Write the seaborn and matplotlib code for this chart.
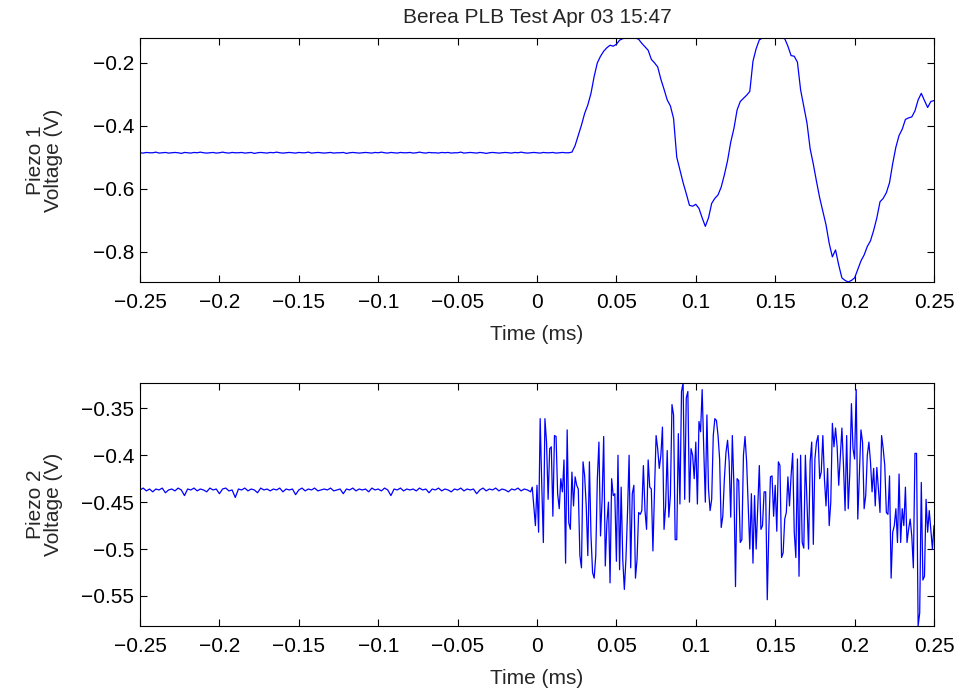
import numpy as np
import pandas as pd
import seaborn as sns
import matplotlib.pyplot as plt

# ---- data ----
title = 'Berea PLB Test Apr 03 15:47'
x_ticks = [-0.25, -0.2, -0.15, -0.1, -0.05, 0, 0.05, 0.1, 0.15, 0.2, 0.25]
x_tick_labels = ['\u22120.25', '\u22120.2', '\u22120.15', '\u22120.1', '\u22120.05', '0',
                 '0.05', '0.1', '0.15', '0.2', '0.25']
top_y_ticks = [-0.8, -0.6, -0.4, -0.2]
top_y_labels = ['\u22120.8', '\u22120.6', '\u22120.4', '\u22120.2']
bot_y_ticks = [-0.55, -0.5, -0.45, -0.4, -0.35]
bot_y_labels = ['\u22120.55', '\u22120.5', '\u22120.45', '\u22120.4', '\u22120.35']

# piezo 1: baseline before trigger (every 0.002 ms from -0.25 to 0.020)
piezo1_pre = [
    -0.486, -0.487, -0.485, -0.486, -0.486, -0.484, -0.487, -0.486, -0.485, -0.487,
    -0.486, -0.485, -0.486, -0.488, -0.485, -0.486, -0.487, -0.485, -0.486, -0.484,
    -0.486, -0.487, -0.486, -0.485, -0.487, -0.486, -0.484, -0.486, -0.487, -0.485,
    -0.486, -0.486, -0.485, -0.487, -0.486, -0.485, -0.488, -0.486, -0.485, -0.486,
    -0.487, -0.485, -0.486, -0.484, -0.486, -0.487, -0.486, -0.485, -0.486, -0.487,
    -0.485, -0.486, -0.486, -0.484, -0.487, -0.486, -0.485, -0.486, -0.487, -0.486,
    -0.485, -0.487, -0.486, -0.486, -0.485, -0.488, -0.486, -0.485, -0.486, -0.487,
    -0.486, -0.485, -0.486, -0.487, -0.485, -0.486, -0.484, -0.486, -0.487, -0.485,
    -0.486, -0.487, -0.485, -0.486, -0.486, -0.485, -0.487, -0.486, -0.484, -0.486,
    -0.487, -0.485, -0.486, -0.486, -0.487, -0.485, -0.486, -0.485, -0.487, -0.486,
    -0.486, -0.484, -0.487, -0.486, -0.485, -0.486, -0.487, -0.485, -0.486, -0.488,
    -0.486, -0.485, -0.486, -0.487, -0.486, -0.485, -0.486, -0.487, -0.485, -0.486,
    -0.484, -0.486, -0.487, -0.486, -0.485, -0.486, -0.487, -0.485, -0.486, -0.486,
    -0.485, -0.487, -0.486, -0.485, -0.486, -0.486]
# piezo 1: after trigger (every 0.002 ms from 0.022 to 0.25)
piezo1_post = [
    -0.484, -0.463, -0.431, -0.398, -0.361, -0.334, -0.297, -0.243, -0.200, -0.179,
    -0.163, -0.152, -0.144, -0.147, -0.141, -0.128, -0.123, -0.121, -0.121, -0.121,
    -0.121, -0.125, -0.138, -0.149, -0.160, -0.189, -0.200, -0.213, -0.252, -0.284,
    -0.318, -0.337, -0.377, -0.500, -0.541, -0.581, -0.616, -0.653, -0.656, -0.650,
    -0.663, -0.693, -0.720, -0.693, -0.647, -0.631, -0.620, -0.595, -0.556, -0.511,
    -0.452, -0.409, -0.350, -0.323, -0.313, -0.303, -0.291, -0.195, -0.155, -0.127,
    -0.121, -0.121, -0.121, -0.121, -0.121, -0.121, -0.121, -0.123, -0.147, -0.177,
    -0.179, -0.198, -0.286, -0.339, -0.391, -0.473, -0.522, -0.577, -0.629, -0.672,
    -0.715, -0.774, -0.817, -0.795, -0.843, -0.884, -0.892, -0.897, -0.892, -0.884,
    -0.857, -0.830, -0.811, -0.784, -0.766, -0.733, -0.693, -0.642, -0.631, -0.613,
    -0.581, -0.520, -0.468, -0.431, -0.411, -0.380, -0.375, -0.372, -0.353, -0.318,
    -0.297, -0.320, -0.342, -0.323, -0.320]

# piezo 2: baseline before trigger (every 0.002 ms from -0.25 to -0.006)
piezo2_pre = [
    -0.437, -0.435, -0.438, -0.436, -0.439, -0.436, -0.437, -0.435, -0.440, -0.437,
    -0.436, -0.438, -0.435, -0.437, -0.443, -0.436, -0.437, -0.435, -0.438, -0.436,
    -0.437, -0.439, -0.435, -0.437, -0.436, -0.441, -0.436, -0.435, -0.438, -0.437,
    -0.445, -0.436, -0.437, -0.435, -0.438, -0.436, -0.437, -0.440, -0.435, -0.437,
    -0.436, -0.438, -0.436, -0.437, -0.435, -0.439, -0.436, -0.437, -0.436, -0.442,
    -0.437, -0.435, -0.438, -0.436, -0.437, -0.435, -0.438, -0.437, -0.436, -0.437,
    -0.435, -0.438, -0.437, -0.436, -0.441, -0.436, -0.437, -0.435, -0.438, -0.436,
    -0.437, -0.436, -0.439, -0.435, -0.437, -0.436, -0.438, -0.435, -0.437, -0.443,
    -0.436, -0.437, -0.435, -0.438, -0.436, -0.437, -0.436, -0.438, -0.435, -0.437,
    -0.436, -0.440, -0.436, -0.437, -0.435, -0.438, -0.436, -0.437, -0.439, -0.436,
    -0.437, -0.435, -0.438, -0.436, -0.437, -0.436, -0.441, -0.437, -0.435, -0.438,
    -0.436, -0.437, -0.435, -0.438, -0.436, -0.437, -0.439, -0.436, -0.437, -0.435,
    -0.438, -0.436, -0.437]
# piezo 2: after trigger (every 0.001 ms from -0.004 to 0.25)
piezo2_post = [
    -0.439, -0.434, -0.454, -0.475, -0.432, -0.482, -0.361, -0.432, -0.493, -0.361,
    -0.386, -0.447, -0.393, -0.391, -0.465, -0.379, -0.380, -0.441, -0.457, -0.425,
    -0.439, -0.405, -0.515, -0.373, -0.472, -0.479, -0.418, -0.454, -0.423, -0.432,
    -0.436, -0.507, -0.520, -0.407, -0.422, -0.454, -0.507, -0.407, -0.486, -0.525,
    -0.531, -0.507, -0.425, -0.386, -0.486, -0.447, -0.380, -0.518, -0.472, -0.450,
    -0.536, -0.425, -0.443, -0.441, -0.513, -0.400, -0.522, -0.434, -0.511, -0.543,
    -0.511, -0.461, -0.400,
    -0.520, -0.441, -0.432, -0.531, -0.511, -0.461, -0.463, -0.459, -0.411, -0.459,
    -0.479, -0.405, -0.434, -0.436, -0.502, -0.438, -0.379, -0.393, -0.414, -0.400,
    -0.370, -0.479, -0.454, -0.395, -0.466, -0.443, -0.346, -0.357, -0.490, -0.490,
    -0.377, -0.452, -0.332, -0.323, -0.447, -0.339, -0.332, -0.450, -0.393, -0.400,
    -0.425, -0.386, -0.452, -0.364, -0.375, -0.330, -0.393, -0.450, -0.357, -0.436,
    -0.459, -0.447, -0.379, -0.361, -0.363, -0.379, -0.404, -0.477, -0.465, -0.425,
    -0.397, -0.384, -0.407, -0.466, -0.379, -0.432, -0.540, -0.425, -0.427, -0.493,
    -0.490, -0.400, -0.380, -0.407, -0.454, -0.500, -0.441, -0.515, -0.443, -0.500,
    -0.454, -0.411, -0.479, -0.475, -0.439, -0.439, -0.554, -0.479, -0.423, -0.422,
    -0.465, -0.432, -0.481, -0.407, -0.411, -0.509, -0.504, -0.468, -0.461, -0.423,
    -0.454, -0.422, -0.398, -0.482, -0.509, -0.404, -0.529, -0.400, -0.493, -0.499,
    -0.400, -0.450, -0.500, -0.407, -0.386, -0.495, -0.404, -0.386, -0.379,
    -0.425, -0.418, -0.379, -0.425, -0.454, -0.414, -0.475, -0.450, -0.366, -0.391,
    -0.371, -0.391, -0.432, -0.402, -0.371, -0.411, -0.459, -0.379, -0.457, -0.418,
    -0.345, -0.393, -0.404, -0.330, -0.468, -0.422, -0.373, -0.386, -0.457, -0.443,
    -0.400, -0.386, -0.407, -0.439, -0.414, -0.454, -0.413, -0.436, -0.461, -0.379,
    -0.393, -0.411, -0.461, -0.463, -0.422, -0.531, -0.482, -0.475, -0.457, -0.493,
    -0.420, -0.493, -0.457, -0.475, -0.434, -0.493, -0.479, -0.468, -0.486, -0.520,
    -0.398, -0.398, -0.582, -0.568, -0.429, -0.533, -0.529, -0.447, -0.482, -0.459,
    -0.479, -0.500, -0.475]

# sample times (ms)
t1 = np.concatenate([np.linspace(-0.25, 0.020, len(piezo1_pre)),
                     np.linspace(0.022, 0.25, len(piezo1_post))])
t2 = np.concatenate([np.linspace(-0.25, -0.006, len(piezo2_pre)),
                     np.linspace(-0.004, 0.25, len(piezo2_post))])
df1 = pd.DataFrame({'Time': t1, 'Voltage': piezo1_pre + piezo1_post})
df2 = pd.DataFrame({'Time': t2, 'Voltage': piezo2_pre + piezo2_post})

# ---- plot ----
sns.set_style('ticks')
plt.rcParams['font.family'] = ['Liberation Sans', 'DejaVu Sans']
plt.rcParams['axes.unicode_minus'] = True

fig = plt.figure(figsize=(9.61, 6.88), dpi=100)
ax1 = fig.add_axes([140 / 961, 1 - 282 / 688, 794 / 961, 244 / 688])
ax2 = fig.add_axes([140 / 961, 1 - 626 / 688, 794 / 961, 243 / 688])

fs = 15
panels = [(ax1, df1, 'Piezo 1\nVoltage (V)', top_y_ticks, top_y_labels),
          (ax2, df2, 'Piezo 2\nVoltage (V)', bot_y_ticks, bot_y_labels)]
for ax, df, ylab, yt, ytl in panels:
    sns.lineplot(data=df, x='Time', y='Voltage', ax=ax, color='#0000ff',
                 linewidth=0.9, estimator=None, sort=False)
    ax.set_xlim(-0.25, 0.25)
    ax.set_ylim(df['Voltage'].min(), df['Voltage'].max())
    ax.set_xticks(x_ticks)
    ax.set_xticklabels(x_tick_labels)
    ax.set_yticks(yt)
    ax.set_yticklabels(ytl)
    ax.tick_params(direction='in', length=5, width=0.8, labelsize=fs,
                   top=True, right=True, colors='black')
    ax.tick_params(axis='x', pad=8)
    ax.tick_params(axis='y', pad=4)
    for s in ax.spines.values():
        s.set_visible(True)
        s.set_color('black')
        s.set_linewidth(0.8)
    ax.set_xlabel('Time (ms)', fontsize=fs, labelpad=9)
    ax.set_ylabel(ylab, fontsize=fs, linespacing=0.9)
    ax.yaxis.set_label_coords(-0.097, 0.5)

ax1.set_title(title, fontsize=fs, pad=11)

fig.savefig('out.png', dpi=100, facecolor='white')
